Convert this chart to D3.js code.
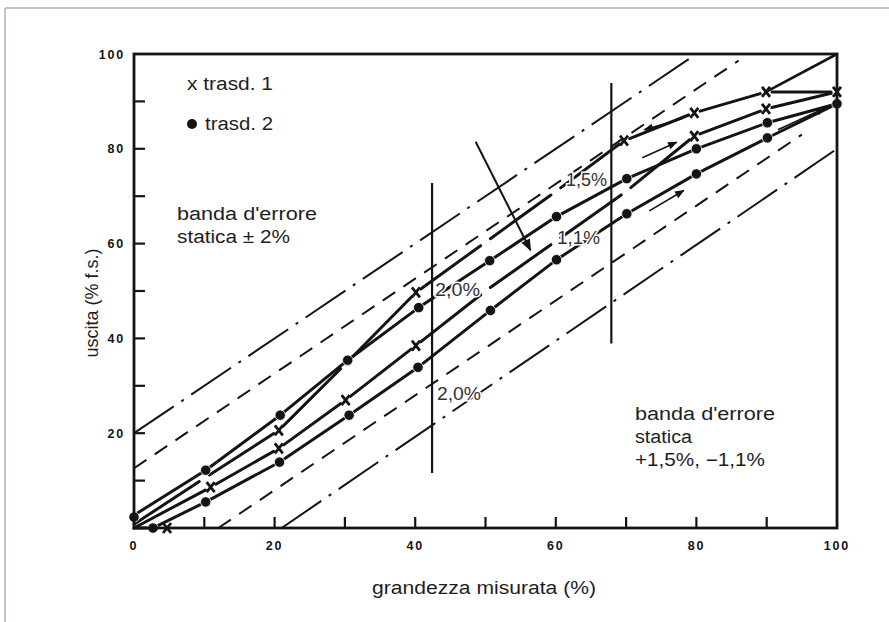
<!DOCTYPE html>
<html><head><meta charset="utf-8">
<script src="https://cdn.jsdelivr.net/npm/d3@7"></script>
<style>body{margin:0;background:#fff}svg{display:block}</style>
</head><body>
<svg id="c" width="889" height="622"></svg>
<script>
// ---------- data ----------
const xTickLabels = [0, 20, 40, 60, 80, 100];
const yTickLabels = [20, 40, 60, 80, 100];
const minorTicks = [10, 20, 30, 40, 50, 60, 70, 80, 90];

// trasd. 1 (x) : lower (ascending) and upper (descending) traverse
const t1LowX  = [0, 10.9, 20.6, 30.1, 40.1, 50, 60, 70, 79.7, 89.9, 100];
const t1LowY  = [0, 8.6, 16.8, 27, 38.5, 50, 60.5, 71, 82.7, 88.4, 92];
const t1HighX = [0, 10, 20.6, 30, 40.1, 50, 60, 69.7, 79.7, 89.9, 100];
const t1HighY = [0.8, 10.5, 20.6, 34.5, 49.7, 60.3, 71, 81.7, 87.6, 92, 92];
const t1CornerX = [89.9, 100];
const t1CornerY = [92, 100];
const t1MarkX = [4.7, 10.9, 20.6, 20.6, 30.1, 40.1, 40.1, 69.7, 79.7, 79.7, 89.9, 89.9, 100];
const t1MarkY = [0, 8.6, 20.6, 16.8, 27, 49.7, 38.5, 81.7, 87.6, 82.7, 92, 88.4, 92];

// trasd. 2 (dots)
const t2HighX = [0, 10.2, 20.8, 30.4, 40.5, 50.6, 60.1, 70.1, 80, 90.1, 100];
const t2HighY = [2.7, 12.2, 23.8, 35.4, 46.5, 56.4, 65.7, 73.7, 80, 85.5, 89.5];
const t2LowX  = [0, 2.7, 10.2, 20.7, 30.6, 40.4, 50.7, 60.1, 70.1, 80, 90.1, 100];
const t2LowY  = [0, 0, 5.5, 13.9, 23.8, 33.9, 45.9, 56.6, 66.3, 74.7, 82.3, 89.5];
const t2MarkX = [0, 2.7, 10.2, 10.2, 20.8, 20.7, 30.4, 30.6, 40.5, 40.4, 50.6, 50.7, 60.1, 60.1, 70.1, 70.1, 80, 80, 90.1, 90.1, 100];
const t2MarkY = [2.3, 0, 12.2, 5.5, 23.8, 13.9, 35.4, 23.8, 46.5, 33.9, 56.4, 45.9, 65.7, 56.6, 73.7, 66.3, 80, 74.7, 85.5, 82.3, 89.5];

// error band lines [x1, y1, x2, y2]
const bandOuterUp  = [0, 20, 80, 100];
const bandInnerUp  = [0, 12.6, 86, 98.6];
const bandInnerLow = [12, 0, 95, 83];
const bandOuterLow = [21, 0, 100, 80];

// vertical deviation markers: x, yBottom, yTop
const vLine1 = [42.4, 11.6, 72.8];
const vLine2 = [67.9, 38.9, 93.9];

// direction arrows [x1, y1, x2, y2]
const arrowBig = [48.6, 81.5, 56.4, 58.6];
const arrowsSmall = [
  [78, 86.4, 72.6, 84.0],
  [72.3, 78.1, 77.2, 81.4],
  [73.3, 66.9, 78.2, 71.2],
  [91.6, 84.0, 98.3, 88.6]
];

// ---------- drawing ----------
const svg = d3.select('#c');
const x = d3.scaleLinear().domain([0, 100]).range([134, 837]);
const y = d3.scaleLinear().domain([0, 100]).range([528, 54]);
const FONT = "'Liberation Sans', Arial, Helvetica, sans-serif";
const INK = '#141414';

// page frame lines
svg.append('line').attr('x1', 5).attr('y1', 8).attr('x2', 889).attr('y2', 8)
  .attr('stroke', '#a8b6c6').attr('stroke-width', 1.5);
svg.append('line').attr('x1', 5).attr('y1', 8).attr('x2', 5).attr('y2', 622)
  .attr('stroke', '#a8b6c6').attr('stroke-width', 1.5);

const defs = svg.append('defs');
defs.append('marker').attr('id', 'ahs').attr('viewBox', '0 0 10 10')
  .attr('refX', 9).attr('refY', 5).attr('markerWidth', 8).attr('markerHeight', 6)
  .attr('markerUnits', 'strokeWidth').attr('orient', 'auto')
  .append('path').attr('d', 'M0,1 L10,5 L0,9 Z').attr('fill', INK);

// band lines
function band(b, dash) {
  svg.append('line')
    .attr('x1', x(b[0])).attr('y1', y(b[1])).attr('x2', x(b[2])).attr('y2', y(b[3]))
    .attr('stroke', INK).attr('stroke-width', 2).attr('stroke-dasharray', dash);
}
band(bandOuterUp, '48,9,3,9');
band(bandOuterLow, '48,9,3,9');
band(bandInnerUp, '15,10');
band(bandInnerLow, '15,10');

// data polylines
const line = d3.line().x(d => x(d[0])).y(d => y(d[1]));
function poly(xs, ys, w) {
  svg.append('path').datum(xs.map((v, i) => [v, ys[i]]))
    .attr('d', line).attr('fill', 'none').attr('stroke', INK)
    .attr('stroke-width', w).attr('stroke-linejoin', 'round').attr('stroke-linecap', 'round');
}
// polyline drawn as separate segments, each shortened near the vertices
function gapped(xs, ys, w, g) {
  const segs = [];
  for (let i = 0; i < xs.length - 1; i++) {
    const x1 = x(xs[i]), y1 = y(ys[i]), x2 = x(xs[i + 1]), y2 = y(ys[i + 1]);
    const L = Math.hypot(x2 - x1, y2 - y1);
    if (L < 2 * g + 2) continue;
    const ux = (x2 - x1) / L, uy = (y2 - y1) / L;
    const g1 = i === 0 ? 0 : g, g2 = g;
    segs.push([x1 + ux * g1, y1 + uy * g1, x2 - ux * g2, y2 - uy * g2]);
  }
  svg.append('g').selectAll('line').data(segs).enter().append('line')
    .attr('x1', d => d[0]).attr('y1', d => d[1]).attr('x2', d => d[2]).attr('y2', d => d[3])
    .attr('stroke', INK).attr('stroke-width', w).attr('stroke-linecap', 'round');
}
poly(t2HighX, t2HighY, 3);
gapped(t2LowX, t2LowY, 3, 6);
gapped(t1HighX, t1HighY, 3, 6);
gapped(t1LowX, t1LowY, 3, 6);
poly(t1CornerX, t1CornerY, 2.6);

// vertical lines
[vLine1, vLine2].forEach(v => {
  svg.append('line').attr('x1', x(v[0])).attr('x2', x(v[0]))
    .attr('y1', y(v[1])).attr('y2', y(v[2]))
    .attr('stroke', INK).attr('stroke-width', 2.2);
});

// arrows
svg.append('line').attr('x1', x(arrowBig[0])).attr('y1', y(arrowBig[1]))
  .attr('x2', x(arrowBig[2])).attr('y2', y(arrowBig[3]))
  .attr('stroke', INK).attr('stroke-width', 2).attr('marker-end', 'url(#ahs)');
arrowsSmall.forEach(a => {
  svg.append('line').attr('x1', x(a[0])).attr('y1', y(a[1]))
    .attr('x2', x(a[2])).attr('y2', y(a[3]))
    .attr('stroke', INK).attr('stroke-width', 1.6).attr('marker-end', 'url(#ahs)');
});

// markers
svg.selectAll('circle.t2').data(t2MarkX.map((v, i) => [v, t2MarkY[i]])).enter()
  .append('circle').attr('class', 't2')
  .attr('cx', d => x(d[0])).attr('cy', d => y(d[1])).attr('r', 5.2)
  .attr('fill', INK).attr('stroke', '#fff').attr('stroke-width', 0.8);
svg.selectAll('path.t1').data(t1MarkX.map((v, i) => [v, t1MarkY[i]])).enter()
  .append('path').attr('class', 't1')
  .attr('d', d => {
    const cx = x(d[0]), cy = y(d[1]);
    return `M${cx-4},${cy-5}L${cx+4},${cy+5}M${cx+4},${cy-5}L${cx-4},${cy+5}`;
  })
  .attr('stroke', INK).attr('stroke-width', 2.8).attr('fill', 'none');

// frame
svg.append('rect').attr('x', x(0)).attr('y', y(100))
  .attr('width', x(100) - x(0)).attr('height', y(0) - y(100))
  .attr('fill', 'none').attr('stroke', INK).attr('stroke-width', 2.8);

// ticks
svg.selectAll('line.yt').data(minorTicks).enter().append('line')
  .attr('x1', x(0)).attr('x2', x(0) + 11).attr('y1', d => y(d)).attr('y2', d => y(d))
  .attr('stroke', INK).attr('stroke-width', 2.2);
svg.selectAll('line.xt').data(minorTicks).enter().append('line')
  .attr('x1', d => x(d)).attr('x2', d => x(d)).attr('y1', y(0)).attr('y2', y(0) - 11)
  .attr('stroke', INK).attr('stroke-width', 2.2);

// tick labels
svg.selectAll('text.xl').data(xTickLabels).enter().append('text')
  .attr('x', d => x(d)).attr('y', 550).attr('text-anchor', 'middle')
  .attr('font-family', FONT).attr('font-weight', 'bold').attr('font-size', 12.5)
  .attr('letter-spacing', 1.8).attr('fill', INK).text(d => d);
svg.selectAll('text.yl').data(yTickLabels).enter().append('text')
  .attr('x', 125).attr('y', d => y(d) + 4.5).attr('text-anchor', 'end')
  .attr('font-family', FONT).attr('font-weight', 'bold').attr('font-size', 12.5)
  .attr('letter-spacing', 1.8).attr('fill', INK).text(d => d);

// texts
function txt(s, tx, ty, len, col, halo) {
  const t = svg.append('text').attr('x', tx).attr('y', ty)
    .attr('font-family', FONT).attr('font-size', 18).attr('fill', col || '#1e1e1e')
    .text(s);
  if (len) t.attr('textLength', len).attr('lengthAdjust', 'spacingAndGlyphs');
  if (halo) t.attr('stroke', '#fff').attr('stroke-width', 3).attr('paint-order', 'stroke');
  return t;
}
txt('x trasd. 1', 187, 90, 86);
svg.append('circle').attr('cx', 192).attr('cy', 124).attr('r', 5).attr('fill', INK);
txt('trasd. 2', 205, 130, 68);
txt("banda d'errore", 177, 220, 140);
txt('statica \u00B1 2%', 177, 243, 113);
txt("banda d'errore", 635, 420, 140);
txt('statica', 635, 443, 57);
txt('+1,5%, \u22121,1%', 635, 466, 130);
txt('2,0%', 435, 296, 45, '#333', true);
txt('2,0%', 437, 400, 44, '#333', true);
txt('1,5%', 566, 186, 41, '#333', true);
txt('1,1%', 557, 244, 43, '#333', true);

// axis titles
txt('grandezza misurata (%)', 372, 594, 224);
svg.append('text').attr('transform', 'translate(98,303) rotate(-90)')
  .attr('text-anchor', 'middle').attr('font-family', FONT).attr('font-size', 18)
  .attr('fill', '#1e1e1e').text('uscita (% f.s.)');
</script>
</body></html>
